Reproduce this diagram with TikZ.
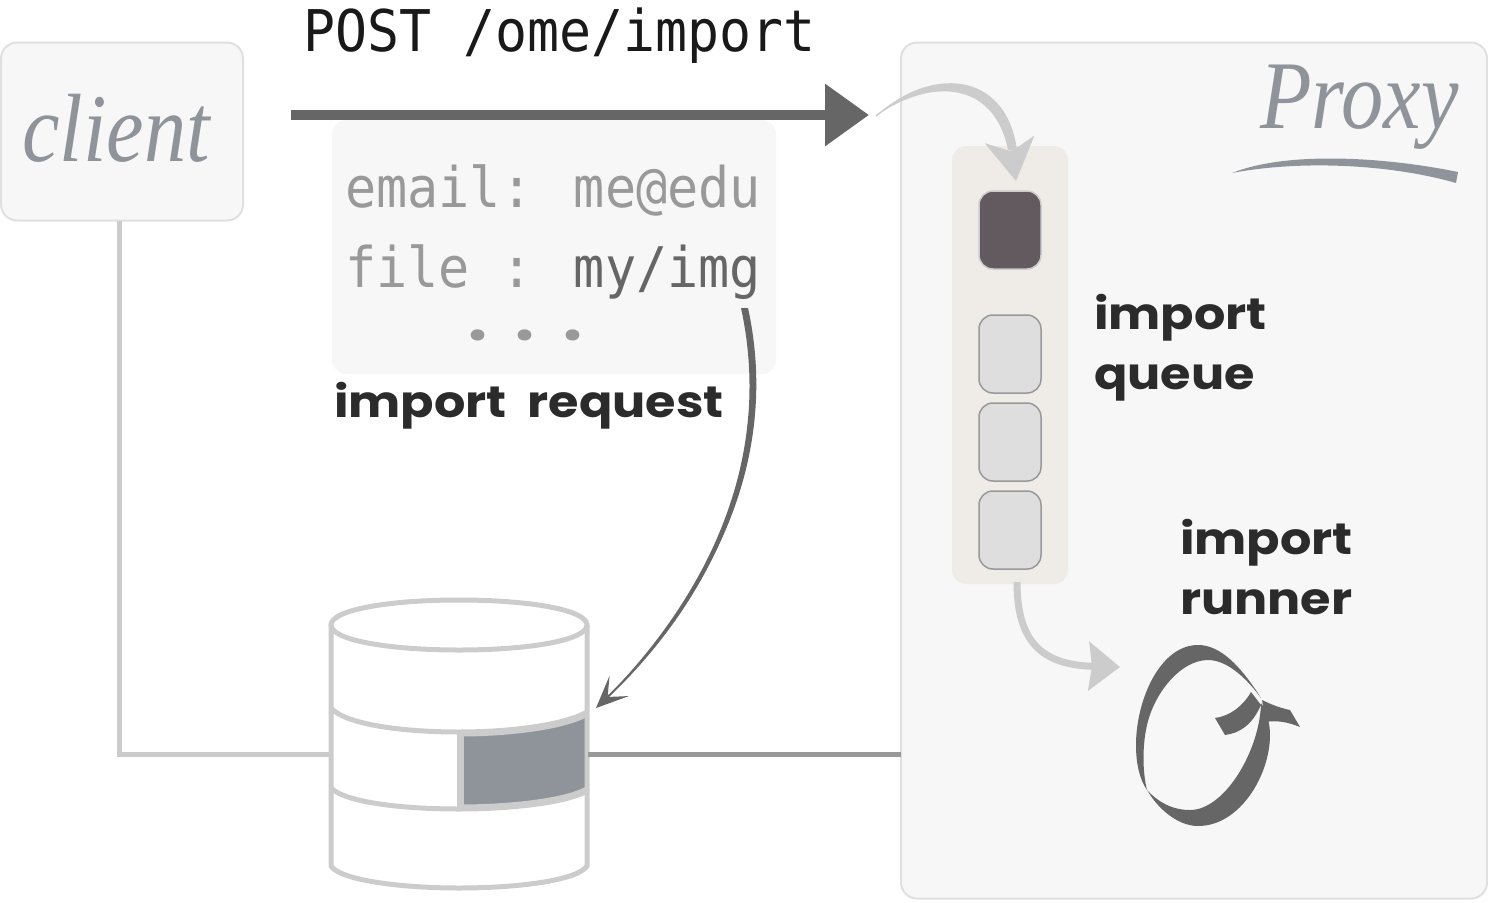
\documentclass[tikz,border=0pt]{standalone}
\usepackage{fontspec}
\usetikzlibrary{positioning,arrows.meta}
\newfontfamily\monofont[FakeStretch=0.925]{DejaVu Sans Mono}
\newfontfamily\labelfont[FakeStretch=1.12]{Poppins}
\newfontfamily\handfont[FakeStretch=0.87]{Liberation Serif}
\definecolor{linegrey}{HTML}{CCCCCC}
\definecolor{darkgrey}{HTML}{666666}
\definecolor{bluegrey}{HTML}{8F949B}
\definecolor{panelgrey}{HTML}{F7F7F7}
\definecolor{queuefill}{HTML}{EFECE8}
\definecolor{slotdark}{HTML}{635A5F}
\tikzset{
	panel/.style={draw=black!12,line width=2pt,fill=panelgrey,rounded corners=16pt,inner sep=0pt,outer sep=0pt},
	slotbox/.style={draw=black!40,line width=1.5pt,fill=black!13,rounded corners=14pt,minimum width=62pt,minimum height=78pt,inner sep=0pt,outer sep=0pt},
	boxtext/.style={font=\monofont\fontsize{56}{60}\selectfont,text=black!40,anchor=base west,inner sep=0pt},
	steptext/.style={font=\labelfont\bfseries\fontsize{44}{60}\selectfont,text=black!83,align=left,anchor=west,inner sep=0pt},
	handtext/.style={font=\handfont\itshape\fontsize{97}{100}\selectfont,text=bluegrey,anchor=base west,inner sep=0pt},
	dbline/.style={draw=linegrey,line width=5pt},
}
\begin{document}
\begin{tikzpicture}[x=1pt,y=-1pt]
	\useasboundingbox (0,0) rectangle (1488,902);

	\node[panel,minimum width=242pt,minimum height=178pt] (client) at (122,131.5) {};
	\node[panel,minimum width=586pt,minimum height=856pt] (proxy) at (1194,470.5) {};
	\node[panel,draw=none,rounded corners=14pt,minimum width=444pt,minimum height=254pt] (request) at (554,247) {};
	\node[panel,draw=none,fill=queuefill,rounded corners=14pt,minimum width=116pt,minimum height=438pt] (queue) at (1010,365) {};

	\node[handtext] (clientlabel) at (22,161) {client};
	\node[handtext] (proxylabel) at (1260,128) {Proxy};
	\fill[bluegrey] (1232,173) .. controls (1290,150) and (1390,158) .. (1458,172) -- (1456,183) .. controls (1390,164) and (1300,160) .. (1232,173) -- cycle;

	\node[boxtext,text=black!90,font=\monofont\fontsize{57.5}{60}\selectfont] (post) at (303,51) {POST /ome/import};
	\node[boxtext] (email) at (345,207) {email: me@edu};
	\node[boxtext] (file) at (345,287) {file : \textcolor{darkgrey}{my/img}};
	\node[boxtext,font=\labelfont\bfseries\fontsize{60}{60}\selectfont] (dots) at (468,340) {\spaceskip=24pt . . .};
	\node[steptext,anchor=base west] (requestlabel) at (334,417) {\spaceskip=21pt import request};

	\node[slotbox,fill=slotdark,draw=linegrey] (slota) at (1010,230) {};
	\node[slotbox,below=46pt of slota] (slotb) {};
	\node[slotbox,below=10pt of slotb] (slotc) {};
	\node[slotbox,below=10pt of slotc] (slotd) {};
	\node[steptext] (queuelabel) at (1094,348) {import\\queue};
	\node[steptext] (runnerlabel) at (1180,567) {import\\runner};

	% database
	\node[minimum width=258pt,minimum height=270pt,inner sep=0pt,outer sep=0pt] (db) at (459,754) {};
	\fill[bluegrey] (460,733) .. controls (510,733) and (560,727) .. (585,715) -- (585,790) .. controls (560,802) and (510,808) .. (460,808) -- cycle;
	\draw[dbline] (331,625) -- (331,866) .. controls (340,880) and (400,888) .. (459,888) .. controls (520,888) and (578,880) .. (587,866) -- (587,625);
	\draw[dbline] (459,600) .. controls (530,600) and (587,610) .. (587,625) .. controls (587,640) and (530,650) .. (459,650) .. controls (388,650) and (331,640) .. (331,625) .. controls (331,610) and (388,600) .. (459,600) -- cycle;
	\draw[dbline] (331,708) .. controls (345,724) and (400,732) .. (459,732);
	\draw[dbline] (331,788) .. controls (345,802) and (400,809) .. (459,809);
	\draw[dbline,line width=7pt] (459,733) .. controls (510,733) and (565,726) .. (587,713);
	\draw[dbline,line width=7pt] (459,808) .. controls (510,808) and (565,802) .. (587,790);
	\draw[dbline,line width=7pt] (460,730) -- (460,810);

	\coordinate (clientdrop) at (119,754);
	\draw[dbline] (client.south -| clientdrop) -- (clientdrop) -- (db.west);
	\draw[dbline,draw=black!40] (db.east) -- (proxy.west |- db.east);

	% request and queue arrows
	\coordinate (poststart) at (291,115);
	\coordinate (posttip) at (869,115);
	\draw[draw=darkgrey,line width=10pt,-{Triangle[length=44pt,width=60pt]}] (poststart) -- (posttip);

	\coordinate (entrystart) at (876,116);
	\coordinate (entrytip) at (1016,181);
	\draw[linegrey,line width=1.5pt,-{Stealth[length=42pt,width=50pt,inset=12pt]}] (entrystart) .. controls (930,72) and (1000,77) .. (entrytip);
	\fill[linegrey] (entrystart) .. controls (930,66) and (1006,70) .. (1017,150) -- (1008,150) .. controls (994,80) and (930,78) .. (entrystart) -- cycle;

	\coordinate (imgstart) at (744,308);
	\coordinate (dbtip) at (596,708);
	\draw[darkgrey,line width=2pt,-{Stealth[length=32pt,width=28pt,inset=16pt]}] (imgstart) .. controls (775,450) and (720,590) .. (dbtip);
	\fill[darkgrey] (741,308) .. controls (772,450) and (717,590) .. (dbtip) .. controls (722,590) and (779,450) .. (748,308) -- cycle;

	\coordinate (queueout) at (1017,582);
	\coordinate (runnertip) at (1120,667);
	\draw[linegrey,line width=7pt,-{Stealth[length=31pt,width=48pt,inset=3pt]}] (queueout) .. controls (1017,640) and (1040,665) .. (runnertip);

	% runner loop
	\fill[darkgrey] (1261,698) .. controls (1240,665) and (1220,645) .. (1198,645) .. controls (1160,645) and (1136,700) .. (1136,745) .. controls (1136,765) and (1140,780) .. (1147,790) .. controls (1142,770) and (1143,745) .. (1146,730) .. controls (1152,695) and (1180,660) .. (1208,660) .. controls (1228,660) and (1248,680) .. (1261,698) -- cycle;
	\fill[darkgrey] (1147,790) .. controls (1160,812) and (1180,826) .. (1198,826) .. controls (1240,826) and (1270,775) .. (1270,735) .. controls (1270,722) and (1266,710) .. (1261,703) .. controls (1260,750) and (1225,810) .. (1190,810) .. controls (1172,810) and (1158,802) .. (1147,790) -- cycle;
	\fill[darkgrey] (1215,718) .. controls (1230,716) and (1243,706) .. (1251,692) -- (1261,705) .. controls (1252,725) and (1240,733) .. (1225,735) -- cycle;
	\fill[darkgrey] (1262,700) .. controls (1270,704) and (1280,708) .. (1290,710) -- (1300,727) .. controls (1288,722) and (1276,720) .. (1266,722) -- cycle;
\end{tikzpicture}
\end{document}
